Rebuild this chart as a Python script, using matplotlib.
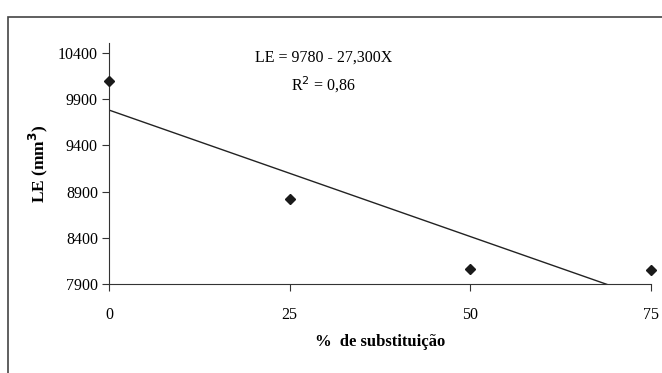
import numpy as np
import matplotlib.pyplot as plt
from matplotlib.patches import Rectangle

# data
subst = [0, 25, 50, 75]
le_values = [10090, 8820, 8070, 8050]
intercept = 9780
slope = -27.3
x_ticks = [0, 25, 50, 75]
y_ticks = [7900, 8400, 8900, 9400, 9900, 10400]

plt.rcParams['font.family'] = ['Liberation Serif', 'DejaVu Serif']

fig = plt.figure(figsize=(6.62, 3.73), dpi=100)
ax = fig.add_axes([0.1647, 0.2378, 0.8187, 0.646])

# outer frame
fig.patches.append(Rectangle((0.012, -0.01), 1.0, 0.964, transform=fig.transFigure,
                             fill=False, edgecolor='#444444', linewidth=1.2))

xs = np.array([0, 75])
ax.plot(xs, intercept + slope * xs, color='#222222', linewidth=1.0, clip_on=True)
ax.plot(subst, le_values, linestyle='none', marker='D', markersize=5,
        color='#1a1a1a', clip_on=False, zorder=3)

ax.set_xlim(0, 75)
ax.set_ylim(7900, 10500)
ax.set_xticks(x_ticks)
ax.set_yticks(y_ticks)
ax.set_xticklabels([str(v) for v in x_ticks], fontsize=11.5)
ax.set_yticklabels([str(v) for v in y_ticks], fontsize=11.5)
ax.tick_params(axis='x', direction='out', length=5, pad=11, color='#333333')
ax.tick_params(axis='y', direction='out', length=5, pad=3, color='#333333')

for side in ['top', 'right']:
    ax.spines[side].set_visible(False)
for side in ['left', 'bottom']:
    ax.spines[side].set_color('#333333')

ax.set_xlabel('%  de substituição', fontsize=12, fontweight='bold', labelpad=8)
ax.set_ylabel('LE (mm$^\\mathbf{3}$)', fontsize=12.5, fontweight='bold', labelpad=6)

fig.text(0.489, 0.845, 'LE = 9780 - 27,300X', ha='center', va='center', fontsize=11.5)
fig.text(0.489, 0.772, 'R$^2$ = 0,86', ha='center', va='center', fontsize=11.5)

fig.savefig('out.png', dpi=100)
